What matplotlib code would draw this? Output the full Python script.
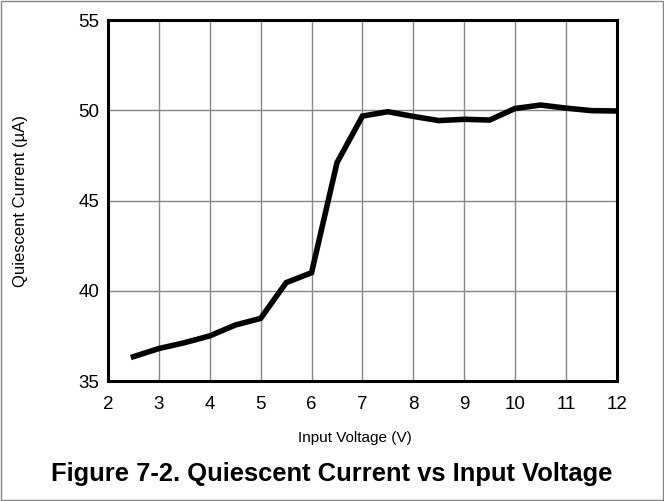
import matplotlib
matplotlib.use("Agg")
import matplotlib.pyplot as plt
from matplotlib.patches import Rectangle

plt.rcParams['font.family'] = ['Liberation Sans', 'DejaVu Sans']

# Input voltage (V) and quiescent current (uA)
vin = [2.5, 3, 3.5, 4, 4.5, 5, 5.5, 6, 6.5, 7, 7.5, 8, 8.5, 9, 9.5, 10, 10.5, 11, 11.5, 12]
iq = [36.35, 36.8, 37.12, 37.5, 38.1, 38.47, 40.45, 41.0, 47.1, 49.68, 49.92, 49.66,
      49.43, 49.5, 49.46, 50.1, 50.29, 50.12, 49.98, 49.96]

x_ticks = list(range(2, 13))
y_ticks = [35, 40, 45, 50, 55]

fig = plt.figure(figsize=(6.64, 5.01), dpi=100)
ax = fig.add_axes([0.1627, 0.2395, 0.7663, 0.7205])

ax.plot(vin, iq, color='black', linewidth=4, solid_joinstyle='miter', zorder=3)

ax.set_xlim(2, 12)
ax.set_ylim(35, 55)
ax.set_xticks(x_ticks)
ax.set_yticks(y_ticks)
ax.tick_params(length=0, labelsize=13.5)
ax.tick_params(axis='x', pad=10.5)
ax.tick_params(axis='y', pad=6.5)
ax.grid(True, color='#888888', linewidth=1)
for s in ax.spines.values():
    s.set_linewidth(2.2)
    s.set_zorder(4)

fig.text(0.031, 0.598, 'Quiescent Current (µA)', rotation=90, ha='center', va='center', fontsize=12)
fig.text(0.535, 0.125, 'Input Voltage (V)', ha='center', va='center', fontsize=11)
fig.text(0.5, 0.054, 'Figure 7-2. Quiescent Current vs Input Voltage', ha='center', va='center',
         fontsize=18.4, fontweight='bold')

fig.patches.append(Rectangle((0.001, 0.001), 0.997, 0.997, transform=fig.transFigure,
                             fill=False, edgecolor='#888888', linewidth=1))

fig.savefig('out.png', dpi=100)
